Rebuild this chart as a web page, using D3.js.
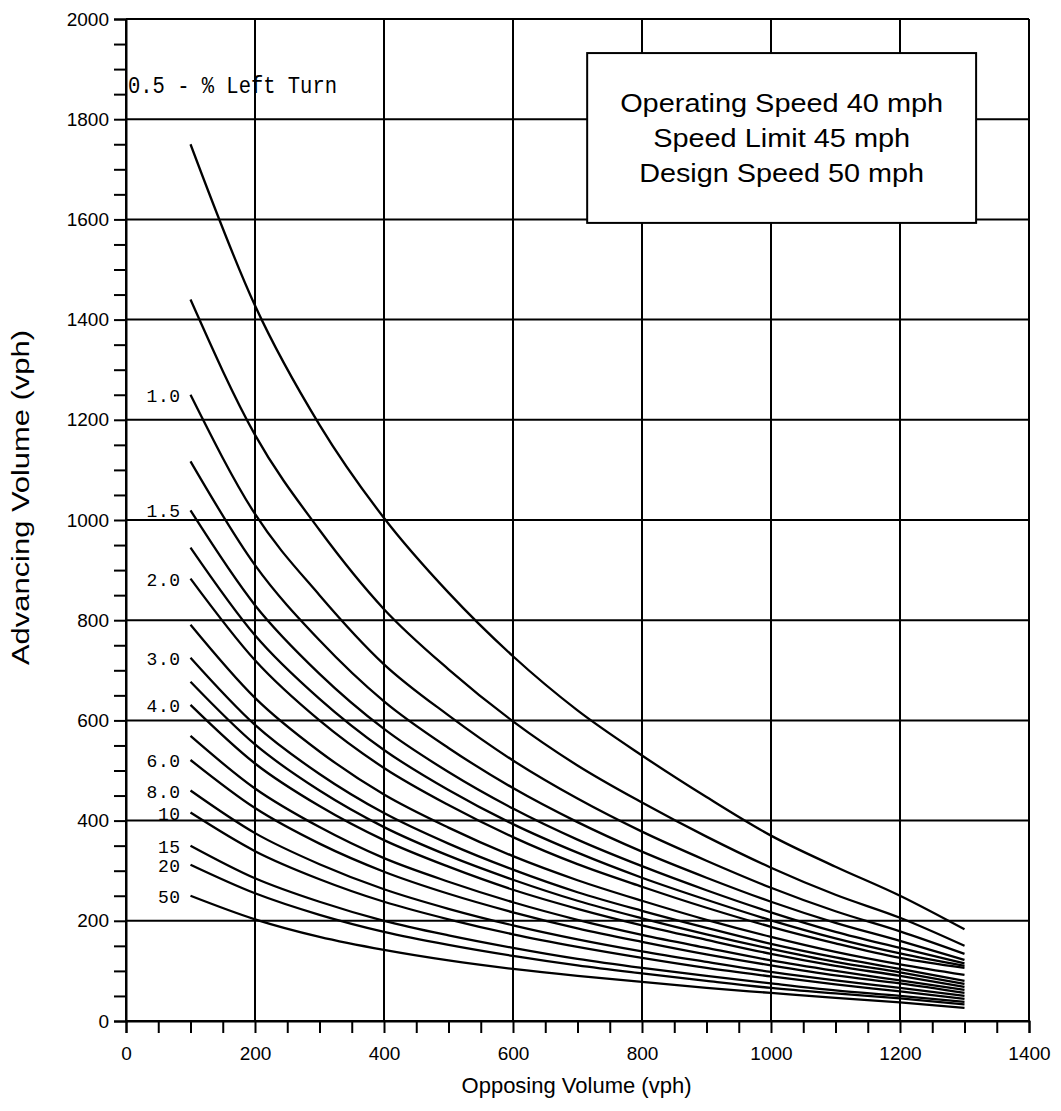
<!DOCTYPE html>
<html>
<head>
<meta charset="utf-8">
<script src="https://cdn.jsdelivr.net/npm/d3@7"></script>
<style>
  body { margin: 0; background: #fff; }
  svg { display: block; }
  .tick text { font-family: "Liberation Sans", Arial, sans-serif; font-size: 19px; fill: #000; }
  .tick line, .domain { stroke: #000; stroke-width: 2; }
</style>
</head>
<body>
<svg id="chart" width="1061" height="1111"></svg>
<script>
// Opposing volume (vph) at which each curve is sampled
const opposing = [100, 200, 300, 400, 500, 600, 700, 800, 900, 1000, 1100, 1200, 1300];

// Advancing volume (vph) for each percentage of left turns
const pct0_5 = [1750, 1428, 1190, 1004, 855, 728, 620, 530, 447, 370, 308, 250, 183];
const mid1   = [1440, 1170, 980, 822, 702, 598, 510, 436, 368, 306, 252, 206, 150];
const pct1_0 = [1250, 1012, 850, 712, 610, 520, 444, 378, 320, 266, 219, 179, 134];
const mid2   = [1117, 910, 760, 638, 545, 465, 397, 338, 286, 238, 196, 160, 122];
const pct1_5 = [1019, 830, 693, 583, 497, 424, 362, 309, 261, 217, 178, 146, 115];
const mid3   = [945, 770, 643, 541, 461, 393, 336, 286, 242, 201, 165, 135, 110];
const pct2_0 = [883, 720, 600, 505, 431, 367, 313, 268, 226, 188, 155, 126, 106];
const mid4   = [791, 645, 538, 452, 386, 329, 281, 240, 202, 168, 138, 113, 92];
const pct3_0 = [725, 591, 493, 415, 354, 302, 257, 220, 186, 154, 127, 104, 80];
const mid5   = [677, 552, 460, 387, 330, 282, 240, 205, 173, 144, 118, 97, 74];
const pct4_0 = [631, 514, 429, 361, 308, 262, 224, 191, 162, 134, 110, 90, 68];
const mid6   = [569, 464, 387, 325, 278, 237, 202, 172, 146, 121, 100, 81, 62];
const pct6_0 = [521, 425, 354, 298, 254, 217, 185, 158, 133, 111, 91, 75, 56];
const pct8_0 = [460, 375, 313, 263, 224, 191, 163, 139, 118, 98, 81, 66, 50];
const pct10  = [416, 339, 283, 238, 203, 173, 148, 126, 106, 89, 73, 59, 44];
const pct15  = [350, 285, 238, 200, 171, 146, 124, 106, 90, 75, 61, 50, 38];
const pct20  = [312, 255, 212, 178, 152, 130, 111, 95, 80, 66, 55, 45, 33];
const pct50  = [250, 203, 168, 142, 121, 104, 90, 78, 66, 56, 46, 37, 26];

const curves = [pct0_5, mid1, pct1_0, mid2, pct1_5, mid3, pct2_0, mid4, pct3_0,
                mid5, pct4_0, mid6, pct6_0, pct8_0, pct10, pct15, pct20, pct50];
// Labels written beside the start of each curve (the 0.5 curve is named in the heading)
const curveLabels = ["", "", "1.0", "", "1.5", "", "2.0", "", "3.0",
                     "", "4.0", "", "6.0", "8.0", "10", "15", "20", "50"];

const xTicks = [0, 200, 400, 600, 800, 1000, 1200, 1400];
const yTicks = [0, 200, 400, 600, 800, 1000, 1200, 1400, 1600, 1800, 2000];
const infoLines = ["Operating Speed 40 mph", "Speed Limit 45 mph", "Design Speed 50 mph"];

const svg = d3.select("#chart");
const x = d3.scaleLinear().domain([0, 1400]).range([126, 1029]);
const y = d3.scaleLinear().domain([0, 2000]).range([1021, 19]);

// Grid every 200 vph
const grid = svg.append("g").attr("stroke", "#000").attr("stroke-width", 2);
grid.selectAll("line.v").data(xTicks).join("line").attr("class", "v")
  .attr("x1", d => x(d)).attr("x2", d => x(d)).attr("y1", y(0)).attr("y2", y(2000));
grid.selectAll("line.h").data(yTicks).join("line").attr("class", "h")
  .attr("x1", x(0)).attr("x2", x(1400)).attr("y1", d => y(d)).attr("y2", d => y(d));

// Axes with minor ticks every 50 vph
const fmtMajor = d => (d % 200 === 0 ? d : "");
svg.append("g").attr("transform", `translate(0,${y(0)})`)
  .call(d3.axisBottom(x).tickValues(d3.range(0, 1401, 50)).tickSize(12).tickPadding(14).tickFormat(fmtMajor));
svg.append("g").attr("transform", `translate(${x(0)},0)`)
  .call(d3.axisLeft(y).tickValues(d3.range(0, 2001, 50)).tickSize(12).tickPadding(5).tickFormat(fmtMajor));

// Curves
const line = d3.line().x((d, i) => x(opposing[i])).y(d => y(d)).curve(d3.curveMonotoneX);
svg.append("g").selectAll("path").data(curves).join("path")
  .attr("d", d => line(d)).attr("fill", "none").attr("stroke", "#000").attr("stroke-width", 2.3);

// Curve labels
svg.append("g").selectAll("text").data(curves.map((c, i) => ({ v: c[0], t: curveLabels[i] })).filter(d => d.t))
  .join("text")
  .attr("x", x(opposing[0]) - 10).attr("y", d => y(d.v) + 7)
  .attr("text-anchor", "end")
  .attr("font-family", "'Liberation Mono', 'DejaVu Sans Mono', monospace")
  .attr("font-size", 18)
  .attr("letter-spacing", 0.5)
  .text(d => d.t);

svg.append("text")
  .attr("x", x(0) + 2).attr("y", y(1852))
  .attr("font-family", "'Liberation Mono', 'DejaVu Sans Mono', monospace")
  .attr("font-size", 23)
  .attr("textLength", 209).attr("lengthAdjust", "spacingAndGlyphs")
  .text("0.5 - % Left Turn");

// Speed information box
const bx0 = x(715), bx1 = x(1318), by0 = y(1932), by1 = y(1593);
svg.append("rect").attr("x", bx0).attr("y", by0).attr("width", bx1 - bx0).attr("height", by1 - by0)
  .attr("fill", "#fff").attr("stroke", "#000").attr("stroke-width", 2);
const infoWidths = [323, 257, 285];
svg.append("g").selectAll("text").data(infoLines).join("text")
  .attr("x", (bx0 + bx1) / 2).attr("y", (d, i) => by0 + 59 + i * 35)
  .attr("text-anchor", "middle")
  .attr("font-family", "'Liberation Sans', Arial, sans-serif").attr("font-size", 25)
  .attr("textLength", (d, i) => infoWidths[i]).attr("lengthAdjust", "spacingAndGlyphs")
  .text(d => d);

// Axis titles
svg.append("text")
  .attr("x", (x(0) + x(1400)) / 2 - 1).attr("y", 1093)
  .attr("text-anchor", "middle")
  .attr("font-family", "'Liberation Sans', Arial, sans-serif").attr("font-size", 22)
  .text("Opposing Volume (vph)");
svg.append("text")
  .attr("transform", `translate(29,${(330 + 665) / 2}) rotate(-90)`)
  .attr("text-anchor", "middle")
  .attr("font-family", "'Liberation Sans', Arial, sans-serif").attr("font-size", 23)
  .attr("textLength", 335).attr("lengthAdjust", "spacingAndGlyphs")
  .text("Advancing Volume (vph)");
</script>
</body>
</html>
